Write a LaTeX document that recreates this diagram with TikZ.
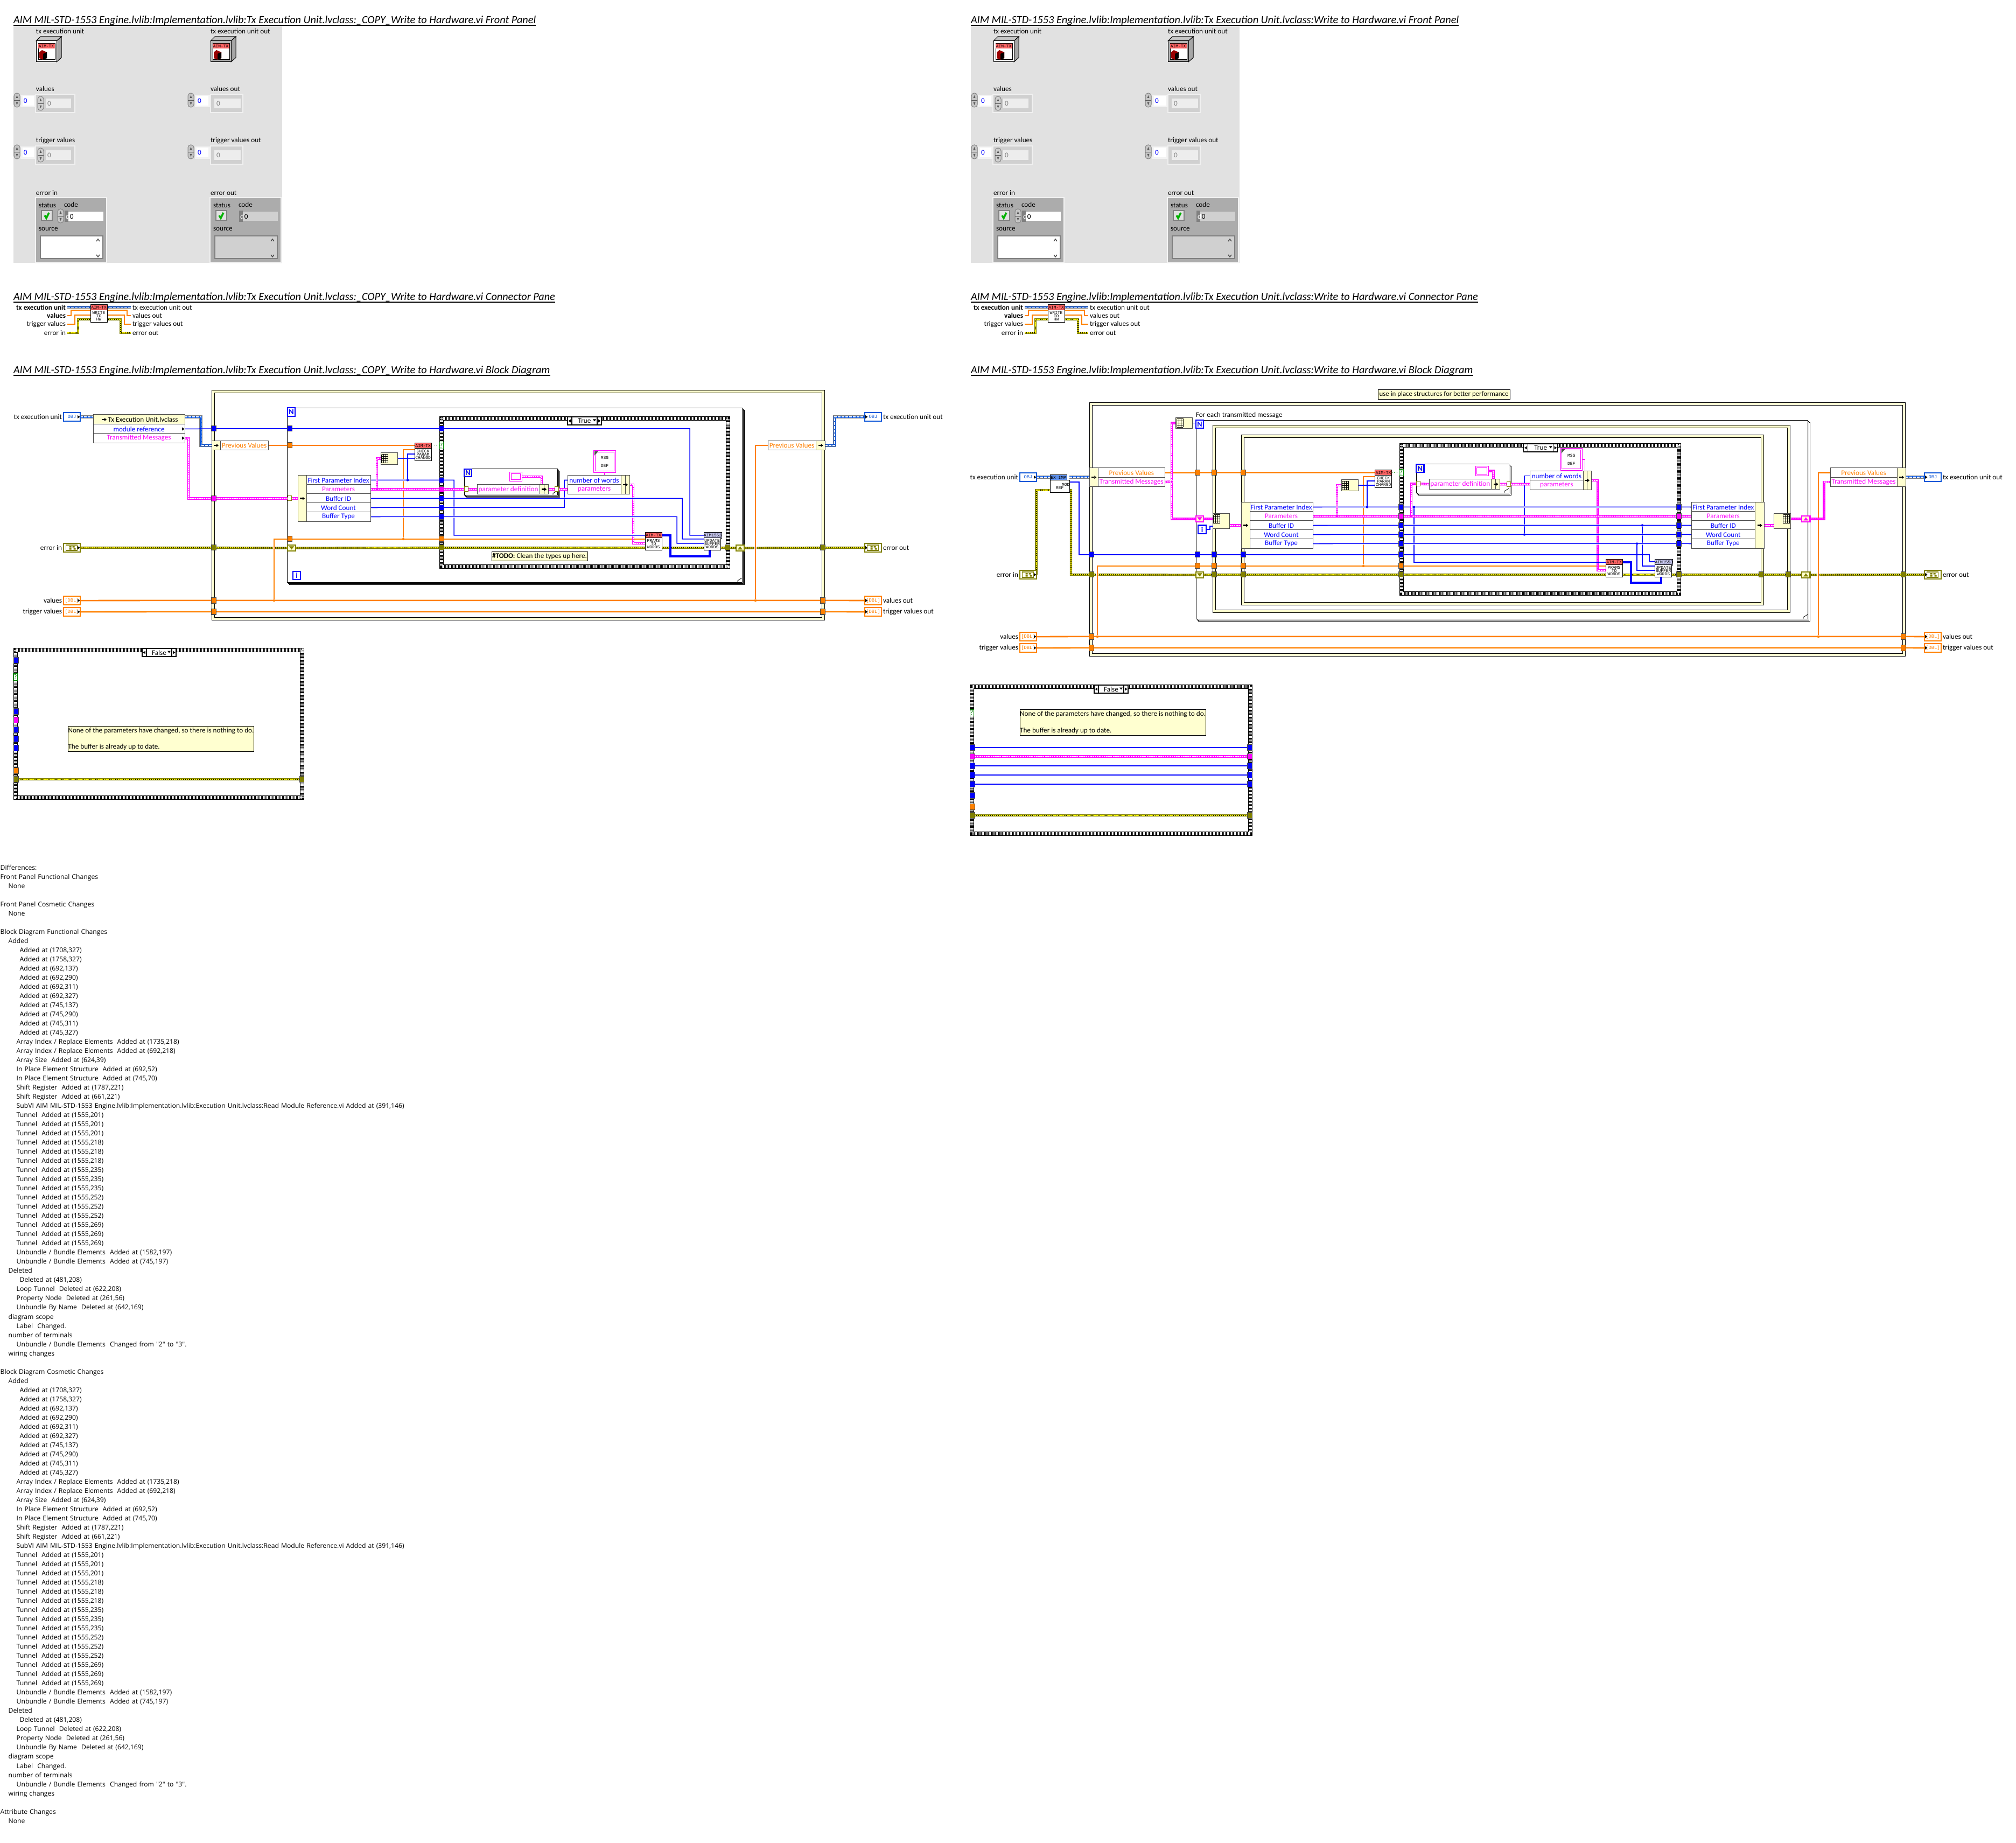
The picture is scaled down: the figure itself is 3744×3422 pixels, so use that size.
\documentclass[tikz,border=0pt]{standalone}
\usepackage{fontspec}
\setmainfont{Carlito}
\newfontfamily\iconfont{Liberation Mono}
\newfontfamily\difffont{Open Sans}
\usetikzlibrary{calc,positioning}
\definecolor{wireblue}{RGB}{0,0,255}
\definecolor{wireor}{RGB}{255,128,0}
\definecolor{wirepk}{RGB}{255,0,255}
\definecolor{wireol}{RGB}{128,128,0}
\definecolor{classbl}{RGB}{16,88,216}
\definecolor{cream}{RGB}{255,255,208}
\definecolor{panelgray}{RGB}{225,225,225}
\definecolor{clustgray}{RGB}{172,172,172}
\definecolor{fieldgray}{RGB}{208,208,208}
\definecolor{headred}{RGB}{255,100,100}
\definecolor{headlav}{RGB}{200,200,240}
\definecolor{headblue}{RGB}{90,140,230}
\newcommand{\lblfont}{\fontsize{3.75}{4.4}\selectfont}
\newcommand{\icofont}{\iconfont\fontsize{2.25}{1.75}\selectfont}
\pgfdeclarelayer{back}
\pgfdeclarelayer{wires}
\pgfsetlayers{back,wires,main}
\tikzset{
  every node/.style={font=\lblfont},
  boxn/.style={rectangle, anchor=north west, inner sep=0pt, outer sep=0pt,
    draw=black!70, line width=.1mm, fill=white},
  lbl/.style={rectangle, inner xsep=.3mm, inner ysep=0pt, outer sep=0pt},
  titlen/.style={lbl, anchor=west, inner xsep=0pt, font=\fontsize{5.76}{6.7}\selectfont},
  difftext/.style={anchor=north west, inner sep=0pt, align=left, text width=90mm,
    font=\difffont\fontsize{3.46}{4.84}\selectfont},
  panel/.style={boxn, draw=none, fill=panelgray},
  cell/.style={boxn, fill=cream},
  rowb/.style={boxn, text=wireblue},
  rowp/.style={boxn, text=wirepk},
  rowo/.style={boxn, text=wireor},
  note/.style={boxn, draw=black, fill=cream},
  selc/.style={boxn, draw=black, line width=.12mm},
  vihead/.style={boxn, draw=black, font=\icofont},
  vibody/.style={boxn, draw=black, align=center, font=\icofont},
  iconn/.style={boxn, fill=cream, font=\icofont},
  constp/.style={boxn, draw=wirepk, double=white, double distance=.15mm, line width=.1mm,
    align=center, font=\icofont},
  termn/.style={boxn, line width=.25mm, font=\iconfont\fontsize{2.5}{3}\selectfont},
  nbox/.style={boxn, draw=wireblue, line width=.25mm, text=wireblue,
    font=\bfseries\fontsize{4}{4.5}\selectfont},
  qbox/.style={boxn, draw=green!50!black, text=green!50!black, line width=.1mm},
  shiftn/.style={boxn, draw=#1, line width=.25mm, fill=cream},
  tun/.style={rectangle, draw=black!70, line width=.1mm, fill=#1, inner sep=0pt,
    outer sep=0pt, minimum width=.85mm, minimum height=1mm},
  idx/.style={tun=white, draw=wireol, minimum height=.9mm, minimum width=.7mm},
  jdot/.style={circle, inner sep=0pt, minimum size=.45mm, fill=#1},
  frame/.style={draw=black, line width=.1mm, double=cream, double distance=.33mm},
  hatch/.style={preaction={solid, draw=black, line width=.8mm},
    draw=white, line width=.62mm, dash pattern=on .13mm off .13mm},
  loopl/.style={draw=black, line width=.09mm, fill=white},
  halo/.style={preaction={solid, draw=white, line width=.38mm}},
  bwire/.style={draw=wireblue, line width=.15mm},
  twire/.style={draw=wireblue, line width=.32mm},
  owire/.style={draw=wireor, line width=.25mm},
  ewire/.style={preaction={solid, draw=wireol, line width=.42mm},
    preaction={solid, draw=black, line width=.2mm},
    draw=yellow, line width=.2mm, dash pattern=on .25mm off .12mm},
  pwire/.style={preaction={solid, draw=wirepk, line width=.46mm},
    draw=white, line width=.18mm, dash pattern=on .3mm off .12mm},
  pthin/.style={draw=wirepk, line width=.18mm},
  cwire/.style={preaction={solid, draw=black!50, line width=.55mm},
    preaction={solid, draw=classbl, line width=.36mm},
    draw=white, line width=.12mm, dash pattern=on .5mm off .2mm},
  rtip/.pic={\fill[black] (-2,-3) -- (2.5,0) -- (-2,3) -- cycle;},
  ltip/.pic={\fill[black] (2,-3) -- (-2.5,0) -- (2,3) -- cycle;},
  dtip/.pic={\fill[black] (-3,-2) -- (3,-2) -- (0,2) -- cycle;},
  barr/.pic={\fill[black] (-4,-1.2) rectangle (1,1.2);
    \fill[black] (1,-3) -- (5,0) -- (1,3) -- cycle;},
  dstri/.pic={\path[pic actions] (-4.5,-3) -- (4.5,-3) -- (0,3) -- cycle;},
  ustri/.pic={\path[pic actions] (-4.5,3) -- (4.5,3) -- (0,-3) -- cycle;},
  gridg/.pic={\foreach \g in {0,4,8,12}{\draw[black, line width=.07mm] (\g,0) -- (\g,16);}
    \foreach \g in {0,4,8,12,16}{\draw[black, line width=.07mm] (0,\g) -- (12,\g);}},
  errg/.pic={\draw[wireol, line width=.12mm] (-11,-5) rectangle (10,5);
    \fill[wireol] (-5,-3) rectangle (-1,-.5) (1,-3) rectangle (5,-.5) (-5,1) rectangle (-1,3.5)
      (3,1) rectangle (7,3.5);},
  spin/.pic={\draw[fill=#1, draw=gray, line width=.1mm, rounded corners=.5mm]
      (0,0) rectangle (11,26);
    \draw[gray!70!black, line width=.08mm] (0,13) -- (11,13);
    \fill[gray!70!black] (5.5,4) -- (7.5,9) -- (3.5,9) -- cycle (5.5,22) -- (7.5,17) -- (3.5,17) -- cycle;},
  txicon/.pic={\draw[fill=gray!45, line width=.1mm] (0,8) -- (8,0) -- (47,0) -- (38,8) -- cycle;
    \draw[fill=gray!70, line width=.1mm] (38,8) -- (47,0) -- (47,39) -- (38,47) -- cycle;
    \draw[fill=#1, line width=.1mm] (0,8) rectangle (38,47);
    \draw[fill=white, line width=.1mm] (4,13) rectangle (35,43);
    \fill[headred] (4,13) rectangle (35,22);
    \fill[red!60!black] (6,29) -- (11,25) -- (20,29) -- (20,40) -- (13,43) -- (6,40) -- cycle;
    \fill[black] (13,32) -- (20,29) -- (20,40) -- (13,43) -- cycle;}
}
\newcommand{\bx}[7][]{\node[boxn,minimum width={((#5)-(#3))*0.1mm},minimum height={((#6)-(#4))*0.1mm},#1] (#2) at ({#3},{#4}) {#7};}
\newcommand{\vi}[6]{%
  \bx[vihead,fill=#4]{#1H}{#2}{#3}{#2+31}{#3+10}{#5}
  \bx[vibody]{#1}{#2}{#3+10}{#2+31}{#3+32}{#6}}
\newcommand{\term}[5]{\bx[termn,draw=#4,text=#4]{#1}{#2}{#3}{#2+31}{#3+16}{#5}}
\newcommand{\sel}[4]{%
  \bx[selc]{#1A}{#2}{#3}{#2+8}{#3+15}{}
  \bx[selc]{#1B}{#2+8}{#3}{#2+55}{#3+15}{#4}
  \bx[selc]{#1C}{#2+55}{#3}{#2+63}{#3+15}{}
  \pic at (#1A) {ltip}; \pic at (#1C) {rtip};
  \pic at ($(#1B.east)+(-5,-1)$) {dtip};}
\newcommand{\paramrows}[4]{%
  \foreach \i/\txt/\rowst in {1/First Parameter Index/rowb,2/Parameters/rowp,
      3/Buffer ID/rowb,4/Word Count/rowb,5/Buffer Type/rowb}{
    \bx[\rowst]{#1\i}{#2}{#3+(\i-1)*17}{#4}{#3+\i*17}{\txt}
  }}
\newcommand{\loopfr}[4]{%
  \foreach \o in {4,2,0}{\draw[loopl] ({#1+\o},{#2+\o}) rectangle ({#3+\o},{#4+\o});}
  \draw[draw=black, line width=.08mm] ({#3-8},{#4}) -- ({#3-8},{#4-3}) -- ({#3},{#4-8});}
\newcommand{\ic}{\hspace*{1.5mm}}
\newcommand{\ib}{\hspace*{3mm}}
\newcommand{\ia}{\hspace*{3.6mm}}
\newcommand{\changeblock}{%
\ic Added\\%
\ia Added at (1708,327)\\%
\ia Added at (1758,327)\\%
\ia Added at (692,137)\\%
\ia Added at (692,290)\\%
\ia Added at (692,311)\\%
\ia Added at (692,327)\\%
\ia Added at (745,137)\\%
\ia Added at (745,290)\\%
\ia Added at (745,311)\\%
\ia Added at (745,327)\\%
\ib Array Index / Replace Elements\ \ Added at (1735,218)\\%
\ib Array Index / Replace Elements\ \ Added at (692,218)\\%
\ib Array Size\ \ Added at (624,39)\\%
\ib In Place Element Structure\ \ Added at (692,52)\\%
\ib In Place Element Structure\ \ Added at (745,70)\\%
\ib Shift Register\ \ Added at (1787,221)\\%
\ib Shift Register\ \ Added at (661,221)\\%
\ib SubVI AIM MIL-STD-1553 Engine.lvlib:Implementation.lvlib:Execution Unit.lvclass:Read Module Reference.vi Added at (391,146)\\%
\ib Tunnel\ \ Added at (1555,201)\\%
\ib Tunnel\ \ Added at (1555,201)\\%
\ib Tunnel\ \ Added at (1555,201)\\%
\ib Tunnel\ \ Added at (1555,218)\\%
\ib Tunnel\ \ Added at (1555,218)\\%
\ib Tunnel\ \ Added at (1555,218)\\%
\ib Tunnel\ \ Added at (1555,235)\\%
\ib Tunnel\ \ Added at (1555,235)\\%
\ib Tunnel\ \ Added at (1555,235)\\%
\ib Tunnel\ \ Added at (1555,252)\\%
\ib Tunnel\ \ Added at (1555,252)\\%
\ib Tunnel\ \ Added at (1555,252)\\%
\ib Tunnel\ \ Added at (1555,269)\\%
\ib Tunnel\ \ Added at (1555,269)\\%
\ib Tunnel\ \ Added at (1555,269)\\%
\ib Unbundle / Bundle Elements\ \ Added at (1582,197)\\%
\ib Unbundle / Bundle Elements\ \ Added at (745,197)\\%
\ic Deleted\\%
\ia Deleted at (481,208)\\%
\ib Loop Tunnel\ \ Deleted at (622,208)\\%
\ib Property Node\ \ Deleted at (261,56)\\%
\ib Unbundle By Name\ \ Deleted at (642,169)\\%
\ic diagram scope\\%
\ib Label\ \ Changed.\\%
\ic number of terminals\\%
\ib Unbundle / Bundle Elements\ \ Changed from "2" to "3".\\%
\ic wiring changes\\%
}
\begin{document}
\begin{tikzpicture}[x=0.01cm,y=-0.01cm,line join=miter]
  \useasboundingbox (0,0) rectangle (3744,3422);

  % titles, front panels, connector panes
  \foreach \s/\dx/\vname in {L/0/\_COPY\_Write,R/1778/Write}{
    \foreach \n/\ypos/\txt in {a/38/Front Panel,b/552/Connector Pane,c/688/Block Diagram}{
      \node[titlen] (ttl\s\n) at ({25+\dx},\ypos) {\textit{AIM MIL-STD-1553 Engine.lvlib:Implementation.lvlib:Tx Execution Unit.lvclass:\vname{} to Hardware.vi \txt}};
      \draw[line width=.17mm] (ttl\s\n.south west) -- (ttl\s\n.south east);
    }
    \begin{scope}[shift={(\dx,0)}]
      \bx[panel]{fp\s}{25}{49}{524}{487.5}{}
      \foreach \n/\x/\ypos/\txt in {a/67/58/tx execution unit,b/391/58/tx execution unit out,
          c/67/165/values,d/391/165/values out,e/67/261/trigger values,f/391/261/trigger values out,
          g/67/358/error in,h/391/358/error out}
        \node[lbl,anchor=west,inner xsep=0pt] (fp\s\n) at (\x,\ypos) {\txt};
      \pic at (67,68) {txicon=white};
      \pic at (391,68) {txicon=gray!60};
      \node[font=\icofont,inner sep=0pt] (fp\s ia) at (86,85.5) {AIM-TX};
      \node[font=\icofont,inner sep=0pt] (fp\s ib) at (410,85.5) {AIM-TX};
      \foreach \b [count=\i] in {173,269}{
        \pic at (26,\b) {spin=gray!45};
        \pic at (349,\b) {spin=gray!45};
        \bx[draw=none,fill=panelgray!40!white]{fp\s ua\i}{38}{\b+3}{65}{\b+26}{}
        \bx[draw=none,fill=panelgray!40!white]{fp\s ub\i}{362}{\b+3}{390}{\b+26}{}
        \bx[draw=none]{fp\s va\i}{42}{\b+5}{63}{\b+23}{}
        \bx[draw=none]{fp\s vb\i}{365}{\b+5}{387}{\b+23}{}
        \node[lbl,anchor=west,inner xsep=0pt,text=wireblue] (fp\s za\i) at (44,\b+14) {0};
        \node[lbl,anchor=west,inner xsep=0pt,text=wireblue] (fp\s zb\i) at (367,\b+14) {0};
        \bx[draw=panelgray!50!white,line width=.12mm,fill=fieldgray]{fp\s ra\i}{66}{\b+2}{139}{\b+36}{}
        \bx[draw=none,fill=panelgray!60!white]{fp\s rb\i}{85}{\b+10}{132}{\b+28}{}
        \pic at (70,\b+6) {spin=fieldgray};
        \node[lbl,anchor=west,inner xsep=0pt,text=gray] (fp\s ya\i) at (88,\b+19) {0};
        \bx[draw=panelgray!50!white,line width=.12mm,fill=fieldgray]{fp\s rc\i}{391}{\b+2}{451}{\b+36}{}
        \bx[draw=none,fill=panelgray!60!white]{fp\s rd\i}{398}{\b+10}{447}{\b+28}{}
        \node[lbl,anchor=west,inner xsep=0pt,text=gray] (fp\s yb\i) at (402,\b+19) {0};
      }
      \foreach \cx/\k/\cf/\spn/\fx in {67/a/white/1/60,391/b/fieldgray/0/60}{
        \begin{scope}[shift={(\cx,0)}]
          \bx[draw=panelgray!40!white,line width=.15mm,fill=clustgray]{fp\s\k c}{-1}{367}{131}{488}{}
          \bx[fill=panelgray,draw=gray,line width=.15mm]{fp\s\k e}{10}{391}{30}{409}{}
          \draw[green!70!black,line width=.35mm] (16,400) -- (19,405) -- (24,395);
          \ifnum\spn=1 \pic at (40,388) {spin=gray!45};\fi
          \bx[draw=none,fill=gray]{fp\s\k l}{53}{391}{\fx}{412}{}
          \bx[fill=\cf,draw=none]{fp\s\k f}{\fx}{393}{125}{410}{}
          \bx[fill=\cf,draw=gray,line width=.2mm]{fp\s\k g}{8}{438}{124}{480}{}
          \node[lbl,anchor=west,inner xsep=0pt] (fp\s\k h) at (5,381) {status};
          \node[lbl,anchor=west,inner xsep=0pt] (fp\s\k i) at (52,380) {code};
          \node[lbl,anchor=west,inner xsep=0pt] (fp\s\k j) at (5,425) {source};
          \node[lbl,anchor=west,inner xsep=0pt] (fp\s\k k) at (55,401.5) {{\color{white}d}\hspace*{.1mm}0};
          \draw[black!70,line width=.15mm] (112,448) -- (115,444) -- (118,448) (112,473) -- (115,477) -- (118,473);
        \end{scope}
      }
      % connector pane
      \vi{cp\s}{168}{566}{headred}{AIM-TX}{WRITE\\TO\\HW}
      \foreach \n/\ypos/\txt in {a/570.5/\textbf{tx execution unit},b/586/\textbf{values},c/602/trigger values,d/618/error in}
        \node[lbl,anchor=east] (cp\s\n) at (125,\ypos) {\txt};
      \foreach \n/\ypos/\txt in {e/570.5/tx execution unit out,f/586/values out,g/602/trigger values out,h/618/error out}
        \node[lbl,anchor=west] (cp\s\n) at (243,\ypos) {\txt};
      \foreach \n/\x/\ypos in {pa/168/576,pb/168/585,pc/168/593,pd/199/576,pe/199/585,pf/199/593}
        \coordinate (cp\s\n) at (\x,\ypos);
      \begin{pgfonlayer}{wires}
        \draw[cwire] (cp\s a.east) -- (cp\s a.east -| cp\s H.west);
        \draw[cwire] (cp\s e.west) -- (cp\s e.west -| cp\s H.east);
        \draw[owire] (cp\s b.east) -- ++(7,0) |- (cp\s pa);
        \draw[owire] (cp\s c.east) -- ++(14,0) |- (cp\s pb);
        \draw[ewire] (cp\s d.east) -- ++(20,0) |- (cp\s pc);
        \draw[owire] (cp\s f.west) -- ++(-7,0) |- (cp\s pd);
        \draw[owire] (cp\s g.west) -- ++(-12,0) |- (cp\s pe);
        \draw[ewire] (cp\s h.west) -- ++(-19,0) |- (cp\s pf);
      \end{pgfonlayer}
    \end{scope}
  }

  % left block diagram
  \begin{pgfonlayer}{back}
    \draw[frame] (396,727) rectangle (1529,1149);
    \loopfr{533}{757}{1378}{1081}
    \draw[hatch] (820,777) rectangle (1352,1052);
    \loopfr{862}{870}{1035}{919}
  \end{pgfonlayer}
  \term{aTx}{118}{766}{classbl}{OBJ}
  \term{aErr}{118}{1009}{wireol}{}
  \term{aVal}{118}{1107}{wireor}{[DBL]}
  \term{aTrg}{118}{1128}{wireor}{[DBL]}
  \term{aTxO}{1606}{766}{classbl}{OBJ}
  \term{aErrO}{1606}{1009}{wireol}{}
  \term{aValO}{1606}{1107}{wireor}{[DBL]}
  \term{aTrgO}{1606}{1128}{wireor}{[DBL]}
  \foreach \n in {aTxO,aErrO,aValO,aTrgO}{\pic at ($(\n.west)+(3,0)$) {rtip};}
  \foreach \n in {aTx,aErr,aVal,aTrg}{\pic at ($(\n.east)+(-3,0)$) {rtip};}
  \pic at (aErr) {errg}; \pic at (aErrO) {errg};
  \node[lbl,left=0pt of aTx] (aTxL) {tx execution unit};
  \node[lbl,left=0pt of aErr] (aErrL) {error in};
  \node[lbl,left=0pt of aVal] (aValL) {values};
  \node[lbl,left=0pt of aTrg] (aTrgL) {trigger values};
  \node[lbl,right=0pt of aTxO] (aTxOL) {tx execution unit out};
  \node[lbl,right=0pt of aErrO] (aErrOL) {error out};
  \node[lbl,right=0pt of aValO] (aValOL) {values out};
  \node[lbl,right=0pt of aTrgO] (aTrgOL) {trigger values out};
  \bx[cell]{aUb0}{173}{770}{343}{788}{\hspace*{1.5mm}Tx Execution Unit.lvclass}
  \bx[rowb]{aUb1}{173}{788}{343}{805}{module reference}
  \bx[rowp]{aUb2}{173}{805}{343}{822}{Transmitted Messages}
  \pic at ($(aUb1.east)+(-3,0)$) {rtip}; \pic at ($(aUb2.east)+(-3,0)$) {rtip};
  \pic at ($(aUb0.west)+(20,0)$) {barr};
  \bx[cell]{aPvC}{393}{819}{409}{835}{}
  \bx[rowo]{aPv}{409}{819}{498}{835}{Previous Values}
  \bx[cell]{aPrC}{1515}{819}{1532}{835}{}
  \bx[rowo]{aPr}{1426}{819}{1515}{835}{Previous Values}
  \pic at (aPvC) {barr}; \pic at (aPrC) {barr};
  \bx[nbox]{aN}{534}{757}{548}{773}{N}
  \bx[nbox]{aIb}{544}{1061}{558}{1076}{i}
  \foreach \n/\x/\ypos/\col in {aFb/397/796/wireblue,aFp/397/925.5/wirepk,aFe/397/1017/wireol,
      aFv/397/1115/wireor,aFt/397/1136/wireor,aGe/1528/1017/wireol,aGv/1528/1115/wireor,
      aGt/1528/1136/wireor,aLb/538/796/wireblue,aLo/538/827/wireor,aLv/538/1001/wireor,
      aCb/820/796/wireblue,aC1/820/891.5/wireblue,aC2/820/908.5/wirepk,aC3/820/925.5/wireblue,
      aC4/820/942.5/wireblue,aC5/820/959.5/wireblue,aCv/820/1001/wireor,aCe/820/1017/wireol,
      aDe/1351/1017/wireol}
    \node[tun=\col] (\n) at (\x,\ypos) {};
  \node[idx] (aLp) at (537.5,925.5) {};
  \node[idx] (aI1) at (866,908.5) {};
  \node[idx] (aI2) at (1034,908.5) {};
  \bx[shiftn=wireol]{aSe}{534}{1012}{549}{1023}{}
  \bx[shiftn=wireol]{aTe}{1367}{1012}{1382}{1023}{}
  \pic[fill=wireol] at (aSe) {dstri}; \pic[fill=wireol] at (aTe) {ustri};
  \bx[cell]{aUc}{553}{883}{569}{968}{}
  \pic at (aUc) {barr};
  \paramrows{aR}{569}{883}{688}
  \bx[iconn]{aSize}{707}{841}{738}{862}{}
  \pic at ($(aSize.center)+(-14,-8)$) {gridg};
  \vi{aChk}{770}{823}{headred}{AIM-TX}{CHECK\\PARAM\\CHANGD}
  \bx[qbox]{aQ}{816}{821}{823}{833}{?}
  \sel{aSl}{1054}{774}{True}
  \bx[nbox,fill=cream]{aNi}{862}{871}{876}{885}{N}
  \bx[rowp]{aDef}{886}{899.5}{1002}{917.5}{parameter definition}
  \bx[cell]{aB1}{1002}{899.5}{1010}{917.5}{}
  \bx[cell]{aB2}{1010}{899.5}{1018}{917.5}{}
  \pic at (aB1.east) {barr};
  \bx[constp]{aK}{948}{878}{968}{892}{}
  \bx[rowb]{aN1}{1054}{883}{1153}{900}{number of words}
  \bx[rowp]{aN2}{1054}{900}{1153}{917}{parameters}
  \bx[cell]{aN3}{1153}{883}{1161}{917}{}
  \bx[cell]{aN4}{1161}{883}{1169}{917}{}
  \pic at (aN3.east) {barr};
  \bx[constp]{aMsg}{1104}{838}{1142}{876}{MSG\\[.9mm]DEF}
  \fill[black!70] (1104,838) -- (1111,838) -- (1104,846) -- cycle;
  \vi{aPrm}{1198}{989}{headred}{AIM-TX}{PRAMS\\TO\\WORDS}
  \vi{aUpd}{1307}{989}{headlav}{AIM1553}{UPDATE\\BUFFER\\WORDS}
  \bx[note]{aTodo}{913}{1025}{1091}{1041}{\textbf{\#TODO:} Clean the types up here.}
  \foreach \n/\x/\ypos in {aJ1/509/1115,aJ2/749/1001,aJ3/1403/1115}
    \node[jdot=wireor] (\n) at (\x,\ypos) {};
  \node[jdot=wireblue] (aJ5) at (757,891.5) {};
  \node[jdot=wirepk] (aJ4) at (700,908.5) {};
  \foreach \n/\x/\ypos in {aChkO/770/835,aChkB/770/843,aPrmP/1198/1009,aUpdA/1307/1001,
      aUpdB/1307/1009,aUpdS/1318/1021}
    \coordinate (\n) at (\x,\ypos);

  \begin{pgfonlayer}{wires}
    \draw[ewire] (aErr) -- (aFe) -- (aSe) -- (aCe) -- (aCe -| aPrm.west);
    \draw[ewire] (aCe -| aPrm.east) -- (aCe -| aUpd.west);
    \draw[ewire] (aCe -| aUpd.east) -- (aDe) -- (aTe) -- (aGe) -- (aErrO);
    \draw[cwire] (aTx) -- (aTx -| aUb0.west);
    \draw[cwire] (aUb0.east |- aTx) -- ++(30,0) |- (aPvC);
    \draw[cwire] (aPrC.east) -- ++(18,0) |- (aTxO);
    \draw[owire] (aVal) -- (aFv) -- (aGv) -- (aValO);
    \draw[owire] (aTrg) -- (aFt) -- (aGt) -- (aTrgO);
    \draw[owire] (aPv.east) -- (aPv.east -| aLo.west);
    \draw[owire] (aLo) -- (aLo -| aChkH.west);
    \draw[owire,halo] (aJ1) |- (aLv) -- (aCv) -- (aCv -| aPrm.west);
    \draw[owire,halo] (aJ2) |- (aChkO);
    \draw[owire,halo] (aJ3) |- (aPr);
    \draw[halo,pwire] (aN4.east) -- ++(7,0) |- (aPrmP);
    \draw[bwire] (aUb1.east) -- (aFb) -- (aLb) -- (aCb) -- (1281,796) |- (aUpdH.west);
    \draw[bwire,halo] (aR1.east) -- (aC1) -- (843,891.5) |- (aPrmH.west);
    \draw[bwire] (aJ5) |- (aChkB);
    \draw[bwire] (aSize.east) -- (aSize -| aChk.west);
    \draw[bwire,halo] (aR4.east) -- (aC4) -- (1048,942.5) |- (aN1.west);
    \draw[bwire,halo] (aR3.east) -- (aC3) -- (1267,925.5) |- (aUpdA);
    \draw[bwire,halo] (aR5.east) -- (aC5) -- (1257,959.5) |- (aUpdB);
    \draw[twire,halo] (aPrmH.east) -- ++(16,0) -- ++(0,39) -| (aUpdS);
    \draw[halo,pwire] (aUb2.east) -- ++(7,0) |- (aFp) -- (aLp) -- (aUc);
    \draw[halo,pwire] (aR2.east) -- (aC2) -- (aI1) -- (aDef.west);
    \draw[halo,pwire] (aJ4) |- (aSize.west);
    \draw[pwire] (aB2.east) -- (aI2) -- (aN2.west);
    \draw[pwire] (aK) -| (aB1.north);
    \draw[pthin] (aMsg.south) -- (aMsg.south |- aN1.north);
    \draw[densely dotted,draw=green!50!black,line width=.1mm] (aChk.east |- aQ) -- (aQ);
  \end{pgfonlayer}

  % left false case
  \begin{pgfonlayer}{back}
    \draw[hatch] (29,1207) rectangle (561,1481);
  \end{pgfonlayer}
  \sel{fLs}{264}{1204}{False}
  \foreach \n/\ypos/\col in {a/1226/wireblue,b/1321/wireblue,c/1337/wirepk,d/1355/wireblue,
      e/1372/wireblue,f/1389/wireblue,g/1431/wireor,h/1447/wireol}
    \node[tun=\col] (fLt\n) at (30,\ypos) {};
  \node[tun=wireol] (fLo) at (560.5,1447) {};
  \bx[qbox]{fLq}{25}{1251}{32}{1263}{?}
  \bx[note,align=left]{fLn}{126.5}{1349}{470.5}{1395}{None of the parameters have changed, so there is nothing to do.\\[1.5mm]The buffer is already up to date.}
  \begin{pgfonlayer}{wires}
    \draw[ewire] (fLth) -- (fLo);
  \end{pgfonlayer}

  % right block diagram
  \begin{pgfonlayer}{back}
    \draw[frame] (2026,750) rectangle (3536,1216);
    \loopfr{2221}{780}{3357}{1149}
    \draw[frame] (2255,792) rectangle (3322,1135);
    \draw[frame] (2308,810) rectangle (3273,1121);
    \draw[hatch] (2603,827) rectangle (3118,1102);
    \loopfr{2630}{861}{2802}{915}
  \end{pgfonlayer}
  \bx[note,font=\fontsize{3.65}{4.3}\selectfont]{bNote}{2559}{724}{2804}{741}{use in place structures for better performance}
  \node[lbl,anchor=west,inner xsep=0pt] (bFor) at (2221,771) {For each transmitted message};
  \term{bTx}{1894}{878}{classbl}{OBJ}
  \term{bErr}{1894}{1059}{wireol}{}
  \term{bVal}{1894}{1174}{wireor}{[DBL]}
  \term{bTrg}{1894}{1195}{wireor}{[DBL]}
  \term{bTxO}{3574}{878}{classbl}{OBJ}
  \term{bErrO}{3574}{1059}{wireol}{}
  \term{bValO}{3574}{1174}{wireor}{[DBL]}
  \term{bTrgO}{3574}{1195}{wireor}{[DBL]}
  \foreach \n in {bTxO,bErrO,bValO,bTrgO}{\pic at ($(\n.west)+(3,0)$) {rtip};}
  \foreach \n in {bTx,bErr,bVal,bTrg}{\pic at ($(\n.east)+(-3,0)$) {rtip};}
  \pic at (bErr) {errg}; \pic at (bErrO) {errg};
  \node[lbl,left=0pt of bTx] (bTxL) {tx execution unit};
  \node[lbl,left=0pt of bErr] (bErrL) {error in};
  \node[lbl,left=0pt of bVal] (bValL) {values};
  \node[lbl,left=0pt of bTrg] (bTrgL) {trigger values};
  \node[lbl,right=0pt of bTxO] (bTxOL) {tx execution unit out};
  \node[lbl,right=0pt of bErrO] (bErrOL) {error out};
  \node[lbl,right=0pt of bValO] (bValOL) {values out};
  \node[lbl,right=0pt of bTrgO] (bTrgOL) {trigger values out};
  \vi{bRm}{1950}{882}{headblue}{EX IMP}{\hspace*{2.2mm}MOD\\REF}
  \bx[cell]{bPc}{2023}{869}{2039.5}{903.5}{}
  \bx[rowo]{bPv}{2039.5}{869}{2163}{886.5}{Previous Values}
  \bx[rowp]{bTm}{2039.5}{886.5}{2163}{903.5}{Transmitted Messages}
  \pic at (bPc) {barr};
  \bx[cell]{bQc}{3523}{869}{3539}{903.5}{}
  \bx[rowo]{bQv}{3399}{869}{3523}{886.5}{Previous Values}
  \bx[rowp]{bQm}{3399}{886.5}{3523}{903.5}{Transmitted Messages}
  \pic at (bQc) {barr};
  \bx[iconn]{bSize}{2183.5}{776}{2214.5}{795}{}
  \pic at ($(bSize.center)+(-14,-8)$) {gridg};
  \bx[nbox]{bN}{2221}{780}{2235}{795}{N}
  \bx[nbox]{bIb}{2225}{975.5}{2240}{991}{i}
  \bx[shiftn=wirepk]{bSp}{2221}{958}{2235}{969}{}
  \bx[shiftn=wireol]{bSe}{2221}{1062}{2235}{1073}{}
  \bx[shiftn=wirepk]{bUp}{3346}{958}{3361.5}{969}{}
  \bx[shiftn=wireol]{bUe}{3346}{1062}{3361.5}{1073}{}
  \pic[fill=wirepk] at (bSp) {dstri}; \pic[fill=wireol] at (bSe) {dstri};
  \pic[fill=wirepk] at (bUp) {ustri}; \pic[fill=wireol] at (bUe) {ustri};
  \bx[iconn]{bAi}{2252}{954}{2283}{981}{}
  \pic at ($(bAi.center)+(-14,-12)$) {gridg};
  \bx[iconn]{bRe}{3294}{954}{3325}{981}{}
  \pic at ($(bRe.center)+(2,-12)$) {gridg};
  \bx[cell]{bC0}{2305}{933}{2321}{1018}{}
  \pic at (bC0) {barr};
  \paramrows{bR}{2321}{933}{2438}
  \bx[cell]{bS0}{3259}{933}{3276}{1018}{}
  \pic at (bS0) {barr};
  \paramrows{bS}{3141.5}{933}{3259}
  \foreach \n/\x/\ypos/\col in {bAb/2027/1030/wireblue,bAe/2027/1067/wireol,bAv/2027/1182/wireor,
      bAt/2027/1203/wireor,bLo/2224/877.5/wireor,bLb/2224/1030/wireblue,bLv/2224/1051/wireor,
      bMo/2255/877.5/wireor,bMb/2255/1030/wireblue,bMv/2255/1051/wireor,bMe/2255/1067/wireol,
      bNo/2309/877.5/wireor,bNb/2309/1030/wireblue,bNv/2309/1051/wireor,bNe/2309/1067/wireol,
      bC1/2602/941.5/wireblue,bC2/2602/958.5/wirepk,bC3/2602/975.5/wireblue,bC4/2602/992.5/wireblue,
      bC5/2602/1009.5/wireblue,bCb/2602/1030/wireblue,bCv/2602/1051/wireor,bCe/2602/1067/wireol,
      bD1/3118/941.5/wireblue,bD2/3118/958.5/wirepk,bD3/3118/975.5/wireblue,bD4/3118/992.5/wireblue,
      bD5/3118/1009.5/wireblue,bDe/3118/1067/wireol,bOe/3271/1067/wireol,bPe/3321/1067/wireol,
      bZe/3535/1067/wireol,bZv/3535/1182/wireor,bZt/3535/1203/wireor}
    \node[tun=\col] (\n) at (\x,\ypos) {};
  \node[idx] (bI1) at (2634,898.5) {};
  \node[idx] (bI2) at (2802,899) {};
  \bx[iconn]{bSz2}{2491}{891}{2522}{911}{}
  \pic at ($(bSz2.center)+(-14,-8)$) {gridg};
  \vi{bChk}{2553.6}{873}{headred}{AIM-TX}{CHECK\\PARAM\\CHANGD}
  \bx[qbox]{bQ}{2598.5}{872}{2606}{883}{?}
  \sel{bSl}{2829.7}{824}{True}
  \bx[nbox,fill=cream]{bNi}{2630}{862}{2644.5}{877}{N}
  \bx[rowp]{bDef}{2654.5}{890}{2769}{908}{parameter definition}
  \bx[cell]{bB1}{2769}{890}{2777.5}{908}{}
  \bx[cell]{bB2}{2777.5}{890}{2785.6}{908}{}
  \pic at (bB1.east) {barr};
  \bx[constp]{bK}{2741.6}{867}{2763}{882}{}
  \bx[rowb]{bN1}{2841.6}{875}{2940}{892}{number of words}
  \bx[rowp]{bN2}{2841.6}{892}{2940}{909}{parameters}
  \bx[cell]{bN3}{2940}{875}{2947}{909}{}
  \bx[cell]{bN4}{2947}{875}{2955.5}{909}{}
  \pic at (bN3.east) {barr};
  \bx[constp]{bMsg}{2899.5}{834}{2937}{872}{MSG\\[.9mm]DEF}
  \fill[black!70] (2899.5,834) -- (2906.5,834) -- (2899.5,842) -- cycle;
  \vi{bPrm}{2982}{1039}{headred}{AIM-TX}{PRAMS\\TO\\WORDS}
  \vi{bUpd}{3073.7}{1039}{headlav}{AIM1553}{UPDATE\\BUFFER\\WORDS}
  \foreach \n/\x/\ypos in {bJ0/2038/1182,bJv/2532/1051,bJz/3377/1182}
    \node[jdot=wireor] (\n) at (\x,\ypos) {};
  \foreach \n/\x/\ypos in {bJb/2539/941.5,bJa/2626/941.5,bJw/2831/992.5,bJc/3050/975.5,bJd/3040/1009.5}
    \node[jdot=wireblue] (\n) at (\x,\ypos) {};
  \foreach \n/\x/\ypos in {bJm/2176/894.5,bJs/2483/958.5,bJp/2621/958.5}
    \node[jdot=wirepk] (\n) at (\x,\ypos) {};
  \foreach \n/\x/\ypos in {bRmE/1950/910,bRmO/1981/910,bRmB/1981/895,bChkO/2553.6/885,bChkB/2553.6/893,
      bAiI/2252/977,bPrmP/2982/1059,bUpdA/3073.7/1043,bUpdC/3073.7/1051,bUpdB/3073.7/1059,bUpdS/3085/1071}
    \coordinate (\n) at (\x,\ypos);

  \begin{pgfonlayer}{wires}
    \draw[ewire] (bErr) -- ++(15,0) |- (bRmE);
    \draw[ewire] (bRmO) -- ++(8,0) |- (bAe) -- (bSe) -- (bMe) -- (bNe) -- (bCe) -- (bCe -| bPrm.west);
    \draw[ewire] (bCe -| bPrm.east) -- (bCe -| bUpd.west);
    \draw[ewire] (bCe -| bUpd.east) -- (bDe) -- (bOe) -- (bPe) -- (bUe) -- (bZe) -- (bErrO);
    \draw[cwire] (bTx) -- (bTx -| bRm.west);
    \draw[cwire] (bTx -| bRm.east) -- (bTx -| bPc.west);
    \draw[cwire] (bQc.east |- bTxO) -- (bTxO);
    \draw[owire] (bVal) -- (bAv) -- (bZv) -- (bValO);
    \draw[owire] (bTrg) -- (bAt) -- (bZt) -- (bTrgO);
    \draw[owire] (bPv.east) -- (bLo) -- (bMo) -- (bNo) -- (bNo -| bChk.west);
    \draw[owire,halo] (bJ0) |- (bLv) -- (bMv) -- (bNv) -- (bCv) -- (bCv -| bPrm.west);
    \draw[owire,halo] (bJv) |- (bChkO);
    \draw[owire,halo] (bJz) |- (bQv.west);
    \draw[halo,pwire] (bN4.east) -- ++(12,0) |- (bPrmP);
    \draw[bwire] (bRmB) -- ++(23,0) |- (bAb) -- (bLb) -- (bMb) -- (bNb) -- (bCb) -- (3063.6,1030) |- (bUpdA);
    \draw[bwire] (bSize.east) -- (bSize -| bN.west);
    \draw[bwire] (bIb.east) -- ++(7,0) |- (bAiI);
    \draw[bwire] (bSz2.east) -- (bSz2 -| bChk.west);
    \draw[bwire] (bJb) |- (bChkB);
    \draw[bwire] (bJa) |- (bPrmH.west);
    \draw[bwire] (bJw) |- (bN1.west);
    \draw[bwire] (bJc) |- (bUpdC);
    \draw[bwire] (bJd) |- (bUpdB);
    \foreach \i in {1,3,4,5}
      \draw[bwire,halo] (bR\i.east) -- (bC\i) -- (bD\i) -- (bS\i.west);
    \draw[twire,halo] (bPrmH.east) -- ++(16,0) -- ++(0,38) -| (bUpdS);
    \draw[halo,pwire] (bTm.east) -- (bJm);
    \draw[halo,pwire] (bJm) |- (bSize.west);
    \draw[halo,pwire] (bJm) |- (bSp);
    \draw[pwire] (bSp) -- (bSp -| bAi.west);
    \draw[pwire] (bAi.east |- bC0) -- (bC0);
    \draw[halo,pwire] (bR2.east) -- (bC2) -- (bD2) -- (bS2.west);
    \draw[halo,pwire] (bJs) |- (bSz2.west);
    \draw[halo,pwire] (bJp) |- (bI1);
    \draw[pwire] (bI1) -- (bDef.west);
    \draw[pwire] (bB2.east) -- (bI2) -- (bI2 -| bN2.west);
    \draw[pwire] (bK) -| (bB1.north);
    \draw[pthin] (bMsg.east) -| (bN3.north);
    \draw[pwire] (bS0) -- (bS0 -| bRe.west);
    \draw[pwire] (bRe.east |- bUp) -- (bUp);
    \draw[pwire] (bUp.east) -- ++(26,0) |- (bQm.west);
    \draw[densely dotted,draw=green!50!black,line width=.1mm] (bChk.east |- bQ) -- (bQ);
  \end{pgfonlayer}

  % right false case
  \begin{pgfonlayer}{back}
    \draw[hatch] (1805,1275) rectangle (2322,1548);
  \end{pgfonlayer}
  \sel{fRs}{2032}{1272}{False}
  \foreach \n/\ypos/\col in {a/1388/wireblue,b/1404.5/wirepk,c/1422/wireblue,d/1439/wireblue,
      e/1456/wireblue,f/1477/wireblue,g/1498/wireor,h/1514/wireol}
    \node[tun=\col] (fRt\n) at (1806,\ypos) {};
  \foreach \n/\ypos/\col in {a/1388/wireblue,b/1404.5/wirepk,c/1422/wireblue,d/1439/wireblue,
      e/1456/wireblue,h/1514/wireol}
    \node[tun=\col] (fRo\n) at (2321,\ypos) {};
  \bx[qbox]{fRq}{1801}{1318}{1808}{1329}{?}
  \bx[note,align=left]{fRn}{1894}{1318}{2239}{1365}{None of the parameters have changed, so there is nothing to do.\\[1.5mm]The buffer is already up to date.}
  \begin{pgfonlayer}{wires}
    \foreach \n in {a,c,d,e}
      \draw[bwire] (fRt\n) -- (fRo\n);
    \draw[pwire] (fRtb) -- (fRob);
    \draw[ewire] (fRth) -- (fRoh);
  \end{pgfonlayer}

  % list of differences
  \node[difftext] (diff) at (0,1605) {%
Differences:\\%
Front Panel Functional Changes\\%
\ic None\\%
~\\%
Front Panel Cosmetic Changes\\%
\ic None\\%
~\\%
Block Diagram Functional Changes\\%
\changeblock
~\\%
Block Diagram Cosmetic Changes\\%
\changeblock
~\\%
Attribute Changes\\%
\ic None};
\end{tikzpicture}
\end{document}
